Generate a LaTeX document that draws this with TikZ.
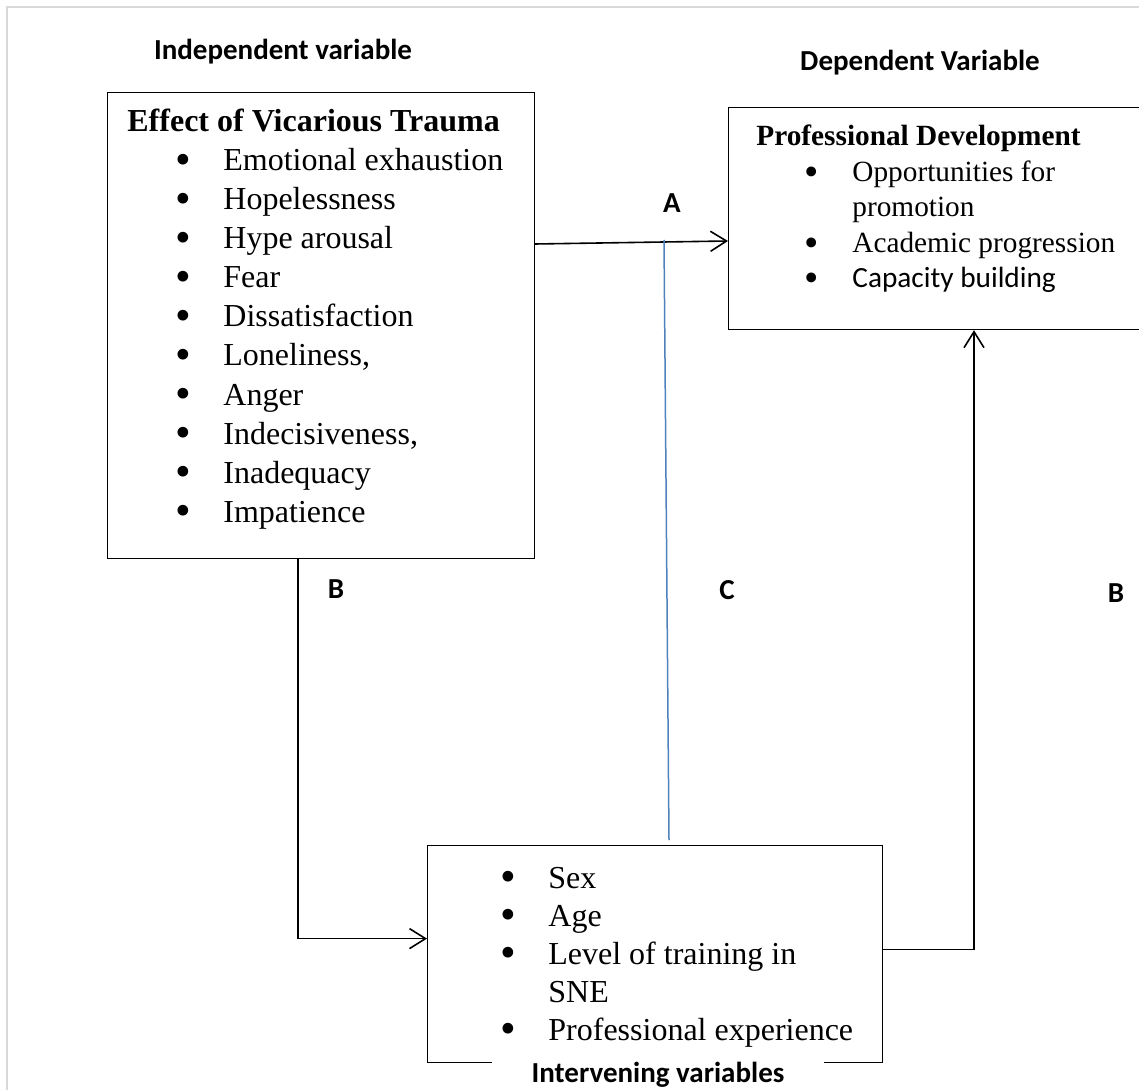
\documentclass[tikz,border=0pt]{standalone}
\usepackage{fontspec}
\setmainfont{Liberation Serif}
\newfontfamily\calibri{Carlito}
\usetikzlibrary{arrows.meta}
\definecolor{framegray}{RGB}{217,217,217}
\definecolor{linkblue}{RGB}{79,129,189}
\newcommand{\itm}[1]{\hspace*{24pt}\makebox[24pt][l]{\raisebox{-0.12em}{\scalebox{1.4}{\textbullet}}}#1}
\newcommand{\cont}[1]{\hspace*{48pt}#1}

\begin{document}
\begin{tikzpicture}[x=0.5pt, y=-0.5pt,
  box/.style = {draw, line width=0.6pt, inner sep=0pt, anchor=north west},
  arr/.style = {line width=0.8pt, -{Straight Barb[length=8pt, width=10pt]}},
  lbl/.style = {font=\calibri\bfseries\fontsize{14.5}{17}\selectfont, inner sep=0pt},
  lst/.style = {align=left, inner sep=0pt, anchor=base west}]
\useasboundingbox (0,0) rectangle (1139,1090);
\clip (0,0) rectangle (1139,1090);
\draw[framegray, line width=1pt] (7,1100) -- (7,7) -- (1150,7);

% boxes
\node[box, minimum width=213.5pt, minimum height=233pt] (evt) at (107,92) {};
\node[box, minimum width=216pt, minimum height=111pt] (pd) at (728,107) {};
\node[box, minimum width=227.5pt, minimum height=108.5pt] (ivar) at (427,845) {};

% box contents (base = last line)
\node[lst, font=\fontsize{16}{19.5}\selectfont] (evtlist) at (127,522) {%
  \textbf{Effect of Vicarious Trauma}\\
  \itm{Emotional exhaustion}\\
  \itm{Hopelessness}\\
  \itm{Hype arousal}\\
  \itm{Fear}\\
  \itm{Dissatisfaction}\\
  \itm{Loneliness,}\\
  \itm{Anger}\\
  \itm{Indecisiveness,}\\
  \itm{Inadequacy}\\
  \itm{Impatience}};
\node[lst, font=\fontsize{14.65}{17.75}\selectfont] (pdlist) at (756,288) {%
  \textbf{Professional Development}\\
  \itm{Opportunities for}\\
  \cont{promotion}\\
  \itm{Academic progression}\\
  \itm{{\calibri Capacity building}}};
\node[lst, font=\fontsize{16}{19}\selectfont] (ivarlist) at (452,1040) {%
  \itm{Sex}\\
  \itm{Age}\\
  \itm{Level of training in}\\
  \cont{SNE}\\
  \itm{Professional experience}};

% labels
\node[lbl] (indep) at (283,52) {Independent variable};
\node[lbl] (dep) at (920,63) {Dependent Variable};
\node[lbl, fill=white, minimum width=166pt, inner ysep=1pt, anchor=north] (interv) at (658,1060) {Intervening variables};
\node[lbl] (la) at (672,203) {A};
\node[lbl] (lb) at (336,589) {B};
\node[lbl] (lc) at (727,590) {C};
\node[lbl] (lb2) at (1116,593) {B};

% connectors
\draw[arr] ([yshift=-76pt]evt.north east) -- ([yshift=-67pt]pd.north west);
\coordinate (ctop) at (664,240);
\coordinate (cbot) at (669,840);
\draw[linkblue, line width=0.75pt] (ctop) -- (cbot);
\draw[arr] ([xshift=95.5pt]evt.south west) |- ([yshift=7.75pt]ivar.west);
\draw[arr] ([yshift=2.25pt]ivar.east) -| ([xshift=123pt]pd.south west);
\end{tikzpicture}
\end{document}
